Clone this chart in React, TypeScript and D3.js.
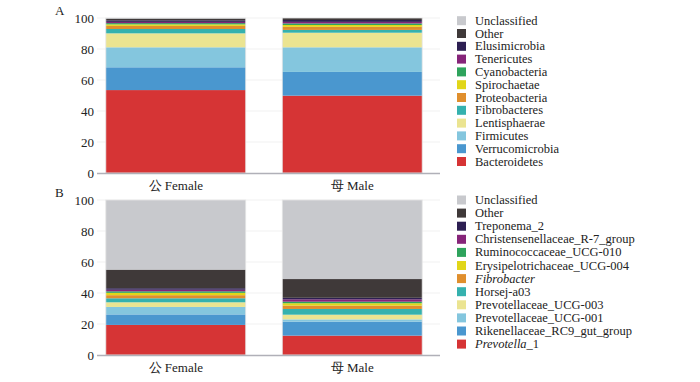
import React from "react";
import * as d3 from "d3";

const groups = ["公 Female", "母 Male"];

const phylumNames = [
  "Bacteroidetes", "Verrucomicrobia", "Firmicutes", "Lentisphaerae", "Fibrobacteres",
  "Proteobacteria", "Spirochaetae", "Cyanobacteria", "Tenericutes", "Elusimicrobia",
  "Other", "Unclassified",
];
const phylumFemale = [53.5, 14.7, 12.9, 9.0, 2.8, 2.0, 1.0, 0.8, 0.8, 1.0, 1.2, 0.3];
const phylumMale = [49.9, 15.3, 15.9, 9.4, 1.8, 2.0, 1.2, 1.0, 1.0, 1.2, 1.3, 0.0];

const genusNames = [
  "Prevotella_1", "Rikenellaceae_RC9_gut_group", "Prevotellaceae_UCG-001", "Prevotellaceae_UCG-003",
  "Horsej-a03", "Fibrobacter", "Erysipelotrichaceae_UCG-004", "Ruminococcaceae_UCG-010",
  "Christensenellaceae_R-7_group", "Treponema_2", "Other", "Unclassified",
];
const genusFemale = [19.4, 6.8, 4.8, 3.0, 2.6, 2.0, 1.5, 1.0, 1.0, 1.0, 12.0, 44.9];
const genusMale = [12.5, 9.0, 1.5, 3.0, 3.7, 2.2, 1.5, 1.0, 1.5, 1.0, 12.1, 51.0];

const colors = [
  "#d63435", "#4a97cf", "#84c6de", "#ebe491", "#35b1ae", "#e08f2d",
  "#e1d619", "#2ea35c", "#862479", "#2d1f52", "#3f3939", "#c8c9cd",
];

const yTicks = [0, 20, 40, 60, 80, 100];

const FONT = "Liberation Serif, Times New Roman, serif";
const txt = { fontFamily: FONT } as any;

function Legend({ names, x, y0, step, italicFull, italicPrefix }: any) {
  const order = names.map((n: string, i: number) => i).reverse();
  return (
    <g>
      {order.map((i: number, k: number) => {
        const cy = y0 + k * step;
        const name = names[i];
        let label: any = name;
        if (italicFull.includes(name)) {
          label = <tspan fontStyle="italic">{name}</tspan>;
        } else if (italicPrefix[name]) {
          const p = italicPrefix[name];
          label = (
            <>
              <tspan fontStyle="italic">{p}</tspan>
              <tspan>{name.slice(p.length)}</tspan>
            </>
          );
        }
        return (
          <g key={name}>
            <rect x={x} y={cy - 4.5} width={9} height={9} fill={colors[i]} />
            <text x={x + 18} y={cy + 4} fontSize={12.5} style={txt} fill="#222">
              {label}
            </text>
          </g>
        );
      })}
    </g>
  );
}

function Panel({ label, top, bottom, female, male, names, legendY0, legendStep, italicFull, italicPrefix }: any) {
  const x = d3.scaleBand().domain(groups).range([97, 431]).paddingInner(0.207).paddingOuter(0.05);
  const y = d3.scaleLinear().domain([0, 100]).range([bottom, top]);
  const data = [female, male];
  return (
    <g>
      <text x={55} y={top - 3} fontSize={13} style={txt} fill="#222">{label}</text>
      {yTicks.map((t) => (
        <g key={t}>
          {t > 0 && <line x1={97} x2={440} y1={y(t)} y2={y(t)} stroke="#f1f1f1" strokeWidth={1} />}
          <text x={94} y={y(t) + 4.5} textAnchor="end" fontSize={13} style={txt} fill="#222">{t}</text>
        </g>
      ))}
      {groups.map((g, gi) => {
        const vals = data[gi];
        let acc = 0;
        return (
          <g key={g}>
            {vals.map((v: number, i: number) => {
              const y0 = acc;
              acc += v;
              if (v <= 0) return null;
              return (
                <rect
                  key={i}
                  x={x(g)}
                  width={x.bandwidth()}
                  y={y(acc)}
                  height={y(y0) - y(acc)}
                  fill={colors[i]}
                />
              );
            })}
            <rect x={x(g)} width={x.bandwidth()} y={y(100)} height={y(0) - y(100)} fill="none" stroke="#e6e6e6" strokeWidth={0.8} />
            <text x={(x(g) as number) + x.bandwidth() / 2} y={bottom + 17} textAnchor="middle" fontSize={13} style={txt} fill="#222">{g}</text>
          </g>
        );
      })}
      <line x1={97} x2={440} y1={bottom + 0.5} y2={bottom + 0.5} stroke="#b0b0b8" strokeWidth={1.5} />
      <Legend names={names} x={457} y0={legendY0} step={legendStep} italicFull={italicFull} italicPrefix={italicPrefix} />
    </g>
  );
}

export default function App() {
  return (
    <svg width={700} height={382} style={{ position: "absolute", left: 0, top: 0, background: "#fff" }}>
      <Panel label="A" top={18} bottom={173} female={phylumFemale} male={phylumMale} names={phylumNames}
        legendY0={20.7} legendStep={12.8} italicFull={[]} italicPrefix={{}} />
      <Panel label="B" top={200} bottom={355} female={genusFemale} male={genusMale} names={genusNames}
        legendY0={200} legendStep={13.1} italicFull={["Fibrobacter"]} italicPrefix={{ Prevotella_1: "Prevotella" }} />
    </svg>
  );
}
